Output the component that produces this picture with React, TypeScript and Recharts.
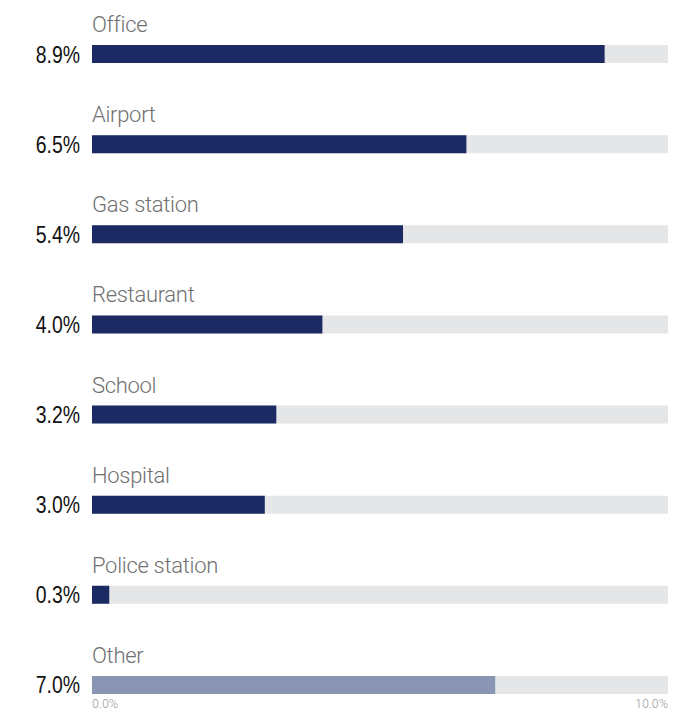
import { BarChart, Bar, XAxis, YAxis, Cell, LabelList } from "recharts";

const categories = [
  "Office",
  "Airport",
  "Gas station",
  "Restaurant",
  "School",
  "Hospital",
  "Police station",
  "Other",
];
const shares = [8.9, 6.5, 5.4, 4.0, 3.2, 3.0, 0.3, 7.0];
const xTicks = [0, 10];

const data = categories.map((name, i) => ({ name, share: shares[i] }));

const NAVY = "#1b2a63";
const OTHER = "#8a95b4";
const TRACK = "#e5e6e8";

const CategoryLabel = (props: any) => {
  const { x, y, value } = props;
  return (
    <text
      x={x}
      y={y - 13}
      fill="#707070"
      fontFamily="'Roboto Light', Roboto, sans-serif"
      fontWeight={300}
      fontSize={22}
      letterSpacing={-0.3}
    >
      {value}
    </text>
  );
};

// condensed look: squeeze the sans horizontally around the right anchor
const ValueLabel = (props: any) => {
  const { x, y, height, value } = props;
  const ax = x - 12;
  const ay = y + height / 2 + 8.5;
  return (
    <text
      x={0}
      y={0}
      transform={`translate(${ax},${ay}) scale(0.81,1)`}
      textAnchor="end"
      fill="#111"
      fontFamily="'Liberation Sans', Arial, sans-serif"
      fontSize={24}
    >
      {`${Number(value).toFixed(1)}%`}
    </text>
  );
};

const AxisTick = (props: any) => {
  const { x, y, payload } = props;
  const first = payload.value === xTicks[0];
  return (
    <text
      x={x}
      y={y - 22}
      textAnchor={first ? "start" : "end"}
      fill="#9a9a9a"
      fontFamily="'Roboto Light', Roboto, sans-serif"
      fontWeight={300}
      fontSize={12.5}
    >
      {`${Number(payload.value).toFixed(1)}%`}
    </text>
  );
};

export default function App() {
  return (
    <div
      style={{
        position: "fixed",
        top: 0,
        left: 0,
        width: 684,
        height: 711,
        overflow: "hidden",
        background: "#fff",
      }}
    >
      <BarChart
        width={684}
        height={750}
        data={data}
        layout="vertical"
        margin={{ top: 9, right: 16, bottom: 0, left: 92 }}
      >
        <XAxis
          type="number"
          domain={[0, 10]}
          ticks={xTicks}
          axisLine={false}
          tickLine={false}
          tickSize={0}
          tickMargin={0}
          height={20}
          tick={<AxisTick />}
        />
        <YAxis type="category" dataKey="name" hide width={0} />
        {/* track + value bar */}
        <Bar
          dataKey="share"
          barSize={18}
          background={{ fill: TRACK }}
          isAnimationActive={false}
        >
          {data.map((d, i) => (
            <Cell key={d.name} fill={i === data.length - 1 ? OTHER : NAVY} />
          ))}
          <LabelList dataKey="name" content={<CategoryLabel />} />
          <LabelList dataKey="share" content={<ValueLabel />} />
        </Bar>
      </BarChart>
    </div>
  );
}
